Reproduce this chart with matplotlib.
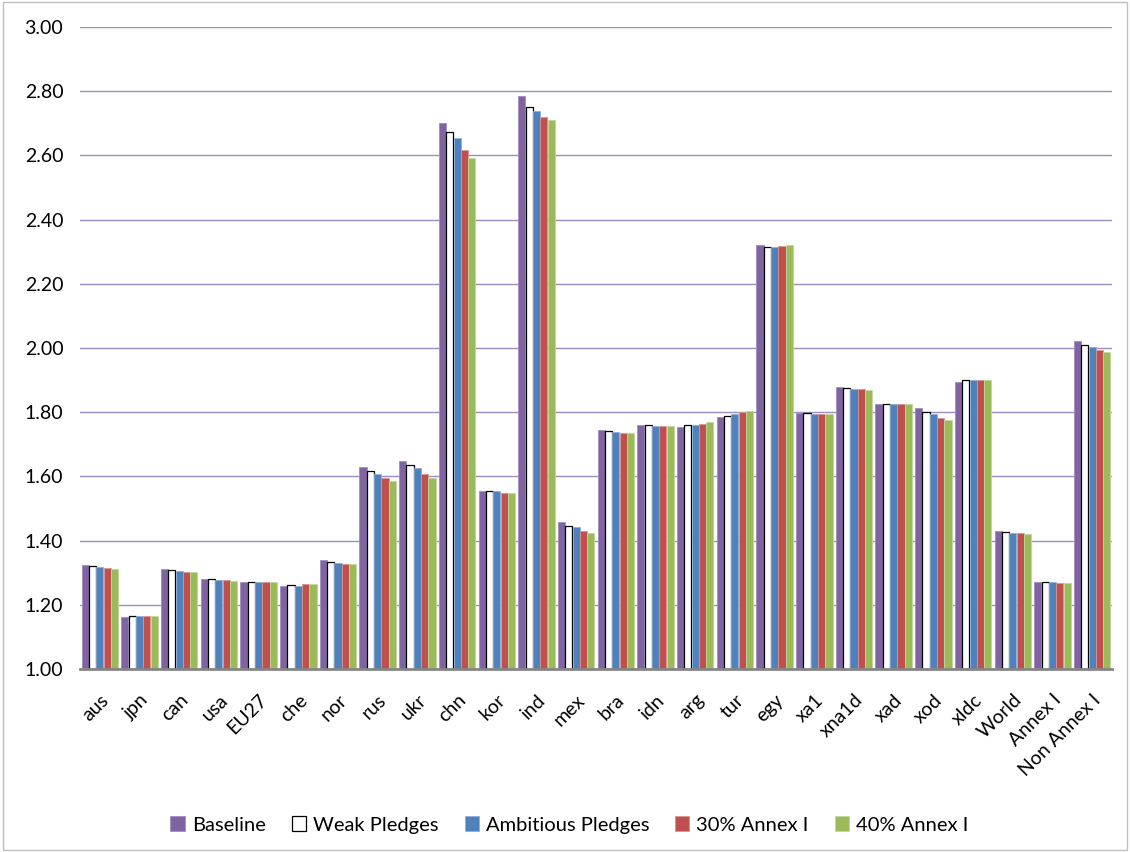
import numpy as np
import matplotlib
matplotlib.use('Agg')
import matplotlib.pyplot as plt
from matplotlib.patches import Rectangle

plt.rcParams['font.family'] = ['Lato', 'DejaVu Sans']

# regions / aggregates
regioes = ['aus', 'jpn', 'can', 'usa', 'EU27', 'che', 'nor', 'rus', 'ukr',
           'chn', 'kor', 'ind', 'mex', 'bra', 'idn', 'arg', 'tur', 'egy',
           'xa1', 'xna1d', 'xad', 'xod', 'xldc', 'World', 'Annex I',
           'Non Annex I']

baseline = [1.324, 1.161, 1.310, 1.281, 1.271, 1.259, 1.340, 1.630, 1.648,
            2.701, 1.555, 2.784, 1.458, 1.745, 1.761, 1.755, 1.786, 2.320,
            1.797, 1.878, 1.825, 1.814, 1.894, 1.431, 1.271, 2.021]
weak = [1.320, 1.164, 1.309, 1.280, 1.270, 1.263, 1.334, 1.617, 1.635,
        2.673, 1.555, 2.751, 1.447, 1.741, 1.760, 1.760, 1.789, 2.316,
        1.796, 1.874, 1.825, 1.802, 1.899, 1.427, 1.270, 2.009]
ambitious = [1.317, 1.164, 1.306, 1.278, 1.271, 1.259, 1.331, 1.608, 1.625,
             2.653, 1.553, 2.738, 1.441, 1.739, 1.758, 1.761, 1.793, 2.314,
             1.793, 1.871, 1.825, 1.794, 1.899, 1.424, 1.271, 2.004]
annex30 = [1.314, 1.164, 1.303, 1.278, 1.271, 1.264, 1.328, 1.595, 1.607,
           2.616, 1.548, 2.719, 1.431, 1.735, 1.758, 1.764, 1.802, 2.317,
           1.793, 1.871, 1.825, 1.783, 1.899, 1.424, 1.268, 1.993]
annex40 = [1.311, 1.164, 1.303, 1.275, 1.271, 1.264, 1.327, 1.585, 1.595,
           2.591, 1.548, 2.709, 1.424, 1.735, 1.758, 1.768, 1.804, 2.320,
           1.793, 1.868, 1.825, 1.776, 1.899, 1.421, 1.268, 1.986]

series = [
    ('Baseline', baseline, '#8064A2', '#A08CBE'),
    ('Weak Pledges', weak, 'white', 'black'),
    ('Ambitious Pledges', ambitious, '#4F81BD', '#8FB0DA'),
    ('30% Annex I', annex30, '#C0504D', '#DA9593'),
    ('40% Annex I', annex40, '#9BBB59', '#C3D79F'),
]

fig = plt.figure(figsize=(11.3, 8.52), dpi=100)
ax = fig.add_axes([80 / 1130, 0.2148, 1032 / 1130, 0.7535])

x = np.arange(len(regioes))
largura = 0.18
for i, (nome, vals, cor, borda) in enumerate(series):
    pos = x + (i - 2) * (largura + 0.005)
    base = np.array(vals) - 1.0
    ax.bar(pos, base, largura, bottom=1.0, color=cor, edgecolor=borda,
           linewidth=0.9 if cor == 'white' else 0.6, label=nome, zorder=3)

ax.set_xlim(-0.5, len(regioes) - 0.5)
ax.set_ylim(1.0, 3.0)
ax.set_yticks(np.arange(1.0, 3.01, 0.2))
ax.set_yticklabels([f'{v:.2f}' for v in np.arange(1.0, 3.01, 0.2)])
ax.yaxis.grid(True, color='#9D8DC0', linewidth=1.0, zorder=0)
ax.set_axisbelow(True)

ax.set_xticks(x)
ax.set_xticklabels(regioes, rotation=45, ha='right', rotation_mode='anchor')
ax.tick_params(axis='x', length=0, pad=16, labelsize=14)
ax.tick_params(axis='y', length=0, labelsize=14, pad=12)

for lado in ['top', 'right', 'left']:
    ax.spines[lado].set_visible(False)
ax.spines['bottom'].set_color('#868686')
ax.spines['bottom'].set_linewidth(2)
ax.spines['bottom'].set_zorder(4)

fig.legend(loc='center', bbox_to_anchor=(0.504, 1 - 825 / 852), ncol=5,
           frameon=False, fontsize=14.5, handlelength=0.7, handleheight=0.7,
           handletextpad=0.35, columnspacing=1.3)

# borda do gráfico
fig.patches.append(Rectangle((0.003, 0.002), 0.994, 0.996,
                             transform=fig.transFigure, fill=False,
                             edgecolor='#BFBFBF', linewidth=1.0))

plt.savefig('out.png', dpi=100)
plt.close()
